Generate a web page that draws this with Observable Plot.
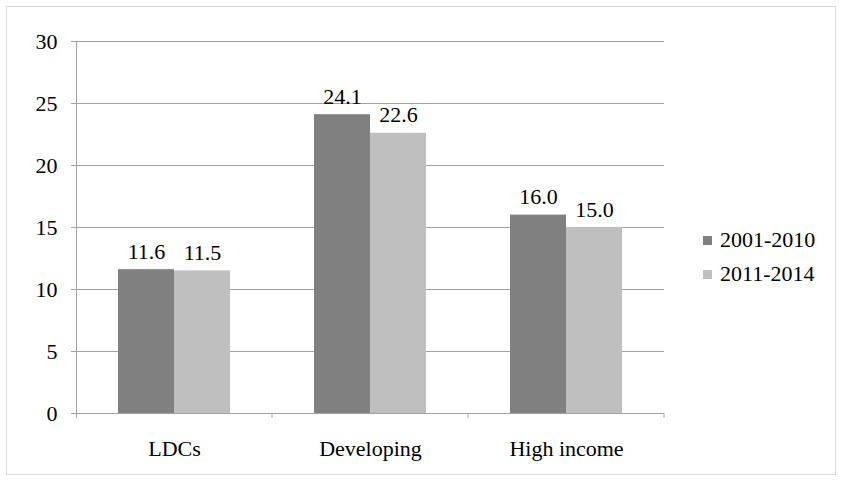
<!DOCTYPE html>
<html>
<head>
<meta charset="utf-8">
<script src="https://cdn.jsdelivr.net/npm/d3@7"></script>
<script src="https://cdn.jsdelivr.net/npm/@observablehq/plot@0.6"></script>
<style>
  html, body { margin: 0; padding: 0; background: #fff; }
  #wrap { position: relative; width: 841px; height: 480px; overflow: hidden; font-family: 'Liberation Serif', 'Times New Roman', Times, 'DejaVu Serif', 'Noto Serif', serif; }
  #border { position: absolute; left: 6px; top: 6px; width: 828px; height: 467px; border: 1px solid #d9d9d9; pointer-events: none; }
  #chart { position: absolute; left: 0; top: 0; }
  #legend { position: absolute; left: 703px; top: 223px; font-size: 22px; color: #000; }
  .item { display: flex; align-items: center; height: 34px; }
  .sw { width: 9px; height: 9px; margin-right: 8px; }
  #chart svg, #chart svg text { font-family: 'Liberation Serif', 'Times New Roman', Times, 'DejaVu Serif', 'Noto Serif', serif !important; }
</style>
</head>
<body>
<div id="wrap">
  <div id="chart"></div>
  <div id="border"></div>
  <div id="legend"></div>
</div>
<script>
const categories = ["LDCs", "Developing", "High income"];
const periods = ["2001-2010", "2011-2014"];
const values2001 = [11.6, 24.1, 16.0];
const values2011 = [11.5, 22.6, 15.0];
const yTicks = [0, 5, 10, 15, 20, 25, 30];
const colors = ["#808080", "#bfbfbf"];

const data = categories.flatMap((c, i) => [
  {category: c, period: periods[0], value: values2001[i]},
  {category: c, period: periods[1], value: values2011[i]}
]);

const gridColor = "#a3a3a3";
const serif = "'Liberation Serif', 'Times New Roman', Times, 'DejaVu Serif', 'Noto Serif', serif";

const plot = Plot.plot({
  width: 841,
  height: 480,
  marginLeft: 76,
  marginRight: 177,
  marginTop: 41,
  marginBottom: 67,
  style: {fontFamily: serif, fontSize: "22px", color: "#000", background: "transparent", overflow: "visible"},
  fx: {domain: categories, padding: 0, label: null},
  x: {domain: periods, paddingInner: 0, paddingOuter: 0.737, axis: null},
  y: {domain: [0, 30], label: null},
  color: {domain: periods, range: colors},
  marks: [
    Plot.gridY(yTicks, {stroke: gridColor, strokeOpacity: 1}),
    Plot.axisY(yTicks, {tickSize: 5, tickPadding: 14, stroke: gridColor, strokeOpacity: 1, fill: "#000", fontSize: 22, label: null}),
    Plot.axisFx({anchor: "bottom", tickSize: 0, tickPadding: 27, fontSize: 22, fill: "#000", label: null}),
    Plot.barY(data, {fx: "category", x: "period", y: "value", fill: "period"}),
    Plot.text(data, {fx: "category", x: "period", y: "value", text: d => d.value.toFixed(1), lineAnchor: "bottom", dy: -11, fontSize: 22, fill: "#000"})
  ]
});

document.getElementById("chart").appendChild(plot);

// Axis line and category boundary ticks using Plot's own scales
const fx = plot.scale("fx");
const y = plot.scale("y");
const y0 = y.apply(0), y30 = y.apply(30);
const x0 = fx.range[0];
const step = (fx.range[1] - fx.range[0]) / categories.length;
const g = d3.select(plot).append("g").attr("stroke", gridColor).attr("stroke-width", 1);
g.append("line").attr("x1", x0 + 0.5).attr("x2", x0 + 0.5).attr("y1", y30).attr("y2", y0 + 5);
g.append("line").attr("x1", x0).attr("x2", fx.range[1]).attr("y1", y0 + 0.5).attr("y2", y0 + 0.5);
for (let i = 1; i <= categories.length; i++) {
  const xx = x0 + i * step;
  g.append("line").attr("x1", xx).attr("x2", xx).attr("y1", y0).attr("y2", y0 + 5);
}

// Legend
const legend = document.getElementById("legend");
periods.forEach((p, i) => {
  const item = document.createElement("div");
  item.className = "item";
  const sw = document.createElement("div");
  sw.className = "sw";
  sw.style.background = colors[i];
  const t = document.createElement("span");
  t.textContent = p;
  item.appendChild(sw);
  item.appendChild(t);
  legend.appendChild(item);
});
</script>
</body>
</html>
